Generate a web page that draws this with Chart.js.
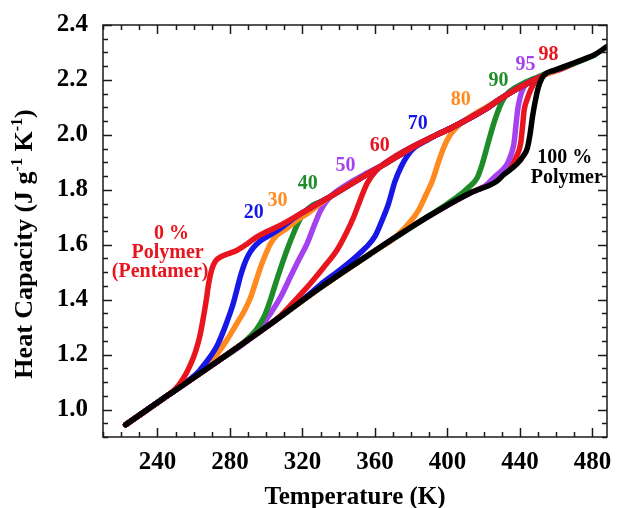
<!DOCTYPE html>
<html><head><meta charset="utf-8">
<script src="https://cdn.jsdelivr.net/npm/chart.js@4/dist/chart.umd.min.js"></script>
<style>html,body{margin:0;padding:0;background:#fff;}canvas{display:block;}</style>
</head><body>
<canvas id="c" width="622" height="508"></canvas>
<script>
// ---- axis ticks ----
const xTickLabels = [240, 280, 320, 360, 400, 440, 480];
const yTickLabels = [1.0, 1.2, 1.4, 1.6, 1.8, 2.0, 2.2, 2.4];

// ---- series values [T (K), Cp (J g-1 K-1)] ----
const p100 = [[222.5,0.945],[245,1.048],[273,1.175],[301,1.305],[329,1.44],[357,1.565],[385,1.685],[413,1.79],[427,1.83],[431,1.855],[438.5,1.895],[442,1.925],[444,1.95],[445.5,2.0],[447,2.07],[448.5,2.125],[450,2.17],[452,2.205],[454,2.222],[459,2.235],[467,2.255],[475,2.275],[482,2.295],[487.5,2.32]];
const p0 = [[222.5,0.945],[245,1.048],[250,1.075],[254,1.11],[258,1.16],[261,1.21],[263.5,1.27],[265.5,1.34],[267,1.40],[268.3,1.46],[270,1.51],[272,1.54],[275,1.556],[279,1.567],[284,1.58],[289.5,1.603],[294,1.625],[300.5,1.648],[309,1.675],[326,1.74],[339,1.79],[354,1.85],[367,1.90],[381,1.955],[394,2.0],[402,2.025],[420,2.09],[429,2.13],[439,2.17],[451,2.21]];
const p20 = [[222.5,0.945],[245,1.048],[259,1.115],[263,1.14],[266,1.165],[270,1.2],[273.5,1.24],[276.7,1.29],[279.5,1.34],[282,1.39],[284,1.44],[286,1.49],[288,1.53],[290,1.56],[293,1.59],[297,1.615],[302,1.635],[308,1.66],[316,1.70],[326,1.74],[339,1.79],[354,1.85],[367,1.90],[381,1.955],[394,2.0],[402,2.025],[420,2.09],[429,2.13],[439,2.17],[451,2.21]];
const p30 = [[222.5,0.945],[245,1.048],[259,1.115],[265,1.145],[271,1.185],[278,1.25],[284,1.315],[288,1.36],[291.5,1.41],[294.5,1.47],[297,1.52],[300,1.57],[302.5,1.605],[306,1.635],[311.5,1.66],[317,1.69],[323,1.715],[330,1.75],[339,1.79],[354,1.85],[367,1.90],[381,1.955],[394,2.0],[402,2.025],[420,2.09],[429,2.13],[439,2.17],[451,2.21]];
const p40 = [[222.5,0.945],[245,1.048],[273,1.175],[280,1.205],[286,1.235],[291,1.265],[295,1.295],[299,1.34],[302.4,1.40],[305,1.455],[308.5,1.525],[312,1.59],[315,1.64],[318,1.685],[321.5,1.72],[326,1.745],[333,1.765],[339,1.79],[354,1.85],[367,1.90],[381,1.955],[394,2.0],[402,2.025],[420,2.09],[429,2.13],[439,2.17],[451,2.21]];
const p50 = [[222.5,0.945],[245,1.048],[273,1.175],[287,1.237],[293,1.27],[298,1.31],[302.4,1.35],[308,1.41],[313.5,1.485],[318,1.545],[322.7,1.606],[326.5,1.67],[330,1.725],[334,1.765],[339,1.795],[346,1.825],[354,1.855],[367,1.90],[381,1.955],[394,2.0],[402,2.025],[420,2.09],[429,2.13],[439,2.17],[451,2.21]];
const p60 = [[222.5,0.945],[245,1.048],[273,1.175],[301,1.305],[306,1.33],[310,1.355],[317,1.405],[324.5,1.46],[332,1.52],[339,1.58],[344,1.64],[348.4,1.703],[352,1.765],[355.7,1.824],[360,1.865],[365,1.895],[372,1.925],[380,1.955],[394,2.0],[402,2.025],[420,2.09],[429,2.13],[439,2.17],[451,2.21]];
const p70 = [[222.5,0.945],[245,1.048],[273,1.175],[301,1.305],[315,1.375],[322,1.41],[330,1.455],[340,1.505],[348.4,1.55],[355,1.59],[360,1.63],[364,1.69],[367.5,1.75],[371,1.83],[374.5,1.885],[378,1.925],[382,1.955],[388,1.978],[394,2.0],[402,2.025],[420,2.09],[429,2.13],[439,2.17],[451,2.21]];
const p80 = [[222.5,0.945],[245,1.048],[273,1.175],[301,1.305],[329,1.44],[357,1.565],[364,1.595],[369,1.615],[373,1.638],[379,1.68],[384,1.725],[388,1.78],[391.5,1.83],[394.5,1.89],[398,1.955],[401,1.995],[405.5,2.03],[411,2.06],[418.5,2.09],[429,2.13],[439,2.17],[451,2.21],[460,2.235]];
const p90 = [[222.5,0.945],[245,1.048],[273,1.175],[301,1.305],[329,1.44],[357,1.565],[385,1.685],[399,1.745],[405.5,1.775],[411,1.805],[416.5,1.845],[419,1.89],[422,1.96],[425,2.03],[427.5,2.08],[430,2.12],[433,2.15],[437,2.17],[442,2.188],[449.6,2.21],[459,2.235],[470,2.26],[481,2.29]];
const p95 = [[222.5,0.945],[245,1.048],[273,1.175],[301,1.305],[329,1.44],[357,1.565],[385,1.685],[413,1.79],[420,1.81],[425.7,1.845],[430,1.87],[433,1.895],[435.2,1.93],[436.7,1.97],[437.7,2.03],[438.7,2.09],[440.2,2.14],[442.2,2.175],[447.8,2.2],[454,2.22],[462,2.24]];
const p98 = [[222.5,0.945],[245,1.048],[273,1.175],[301,1.305],[329,1.44],[357,1.565],[385,1.685],[413,1.79],[420,1.81],[427,1.835],[431,1.86],[435,1.885],[438,1.92],[440.4,1.97],[441.4,2.03],[442.3,2.09],[444,2.13],[445.9,2.164],[449.6,2.205],[456,2.225],[463,2.24],[470,2.26]];

// ---- in-plot labels [text, T, Cp, colour key] ----
const labelTexts = ['0 %','Polymer','(Pentamer)','20','30','40','50','60','70','80','90','95','98','100 %','Polymer'];
const labelT     = [247.8, 245.6, 241.5, 293.1, 306.3, 322.9, 343.8, 362.6, 383.6, 407.3, 428.2, 443.1, 455.8, 464.7, 465.8];
const labelCp    = [1.64, 1.571, 1.502, 1.716, 1.76, 1.822, 1.887, 1.96, 2.04, 2.127, 2.196, 2.255, 2.291, 1.916, 1.844];
const labelColor = ['red','red','red','blue','orange','green','purple','red','blue','orange','green','purple','red','black','black'];

const COL = {red:'#e8151f', blue:'#1717e6', orange:'#ff8a1f', green:'#1f8c2a', purple:'#a542f0', black:'#000000'};
const SERIF = "'Liberation Serif','Times New Roman',serif";

const seriesList = [
  ['100 %', p100, 'black'],
  ['0 %', p0, 'red'],
  ['20 %', p20, 'blue'],
  ['60 %', p60, 'red'],
  ['70 %', p70, 'blue'],
  ['30 %', p30, 'orange'],
  ['40 %', p40, 'green'],
  ['50 %', p50, 'purple'],
  ['80 %', p80, 'orange'],
  ['90 %', p90, 'green'],
  ['95 %', p95, 'purple'],
  ['98 %', p98, 'red']
];

const datasets = seriesList.map(([name, pts, c]) => ({
  label: name,
  data: pts.map(p => ({x: p[0], y: p[1]})),
  borderColor: COL[c],
  backgroundColor: COL[c],
  borderWidth: 5.5,
  pointRadius: 0,
  showLine: true,
  fill: false,
  cubicInterpolationMode: 'monotone',
  borderCapStyle: 'round',
  borderJoinStyle: 'round'
}));

const frameTicks = {
  id: 'frameTicks',
  afterDraw(chart) {
    const {ctx, chartArea: a, scales: {x, y}} = chart;
    ctx.save();
    ctx.strokeStyle = '#1a1a1a';
    ctx.lineWidth = 1.5;
    ctx.strokeRect(a.left, a.top, a.right - a.left, a.bottom - a.top);
    ctx.beginPath();
    for (let v = Math.ceil(x.min / 10) * 10; v <= x.max + 1e-9; v += 10) {
      const px = Math.round(x.getPixelForValue(v)) + 0.5;
      const L = (v % 40 === 0) ? 9 : 5;
      ctx.moveTo(px, a.bottom); ctx.lineTo(px, a.bottom - L);
      ctx.moveTo(px, a.top); ctx.lineTo(px, a.top + L);
    }
    for (let i = Math.ceil(y.min / 0.05 - 1e-6); i * 0.05 <= y.max + 1e-9; i++) {
      const v = i * 0.05;
      const py = Math.round(y.getPixelForValue(v)) + 0.5;
      const L = (i % 4 === 0) ? 9 : 5;
      ctx.moveTo(a.left, py); ctx.lineTo(a.left + L, py);
      ctx.moveTo(a.right, py); ctx.lineTo(a.right - L, py);
    }
    ctx.stroke();
    ctx.restore();
  }
};

const textLabels = {
  id: 'textLabels',
  afterDatasetsDraw(chart) {
    const {ctx, scales: {x, y}} = chart;
    ctx.save();
    ctx.font = 'bold 20px ' + SERIF;
    ctx.textAlign = 'center';
    ctx.textBaseline = 'middle';
    labelTexts.forEach((t, i) => {
      ctx.fillStyle = COL[labelColor[i]];
      ctx.fillText(t, x.getPixelForValue(labelT[i]), y.getPixelForValue(labelCp[i]));
    });
    ctx.restore();
  }
};

const yTitle = {
  id: 'yTitle',
  afterDraw(chart) {
    const {ctx, chartArea: a} = chart;
    const runs = [
      ['Heat Capacity (J g', 26, 0],
      ['-1', 16, 10],
      [' K', 26, 0],
      ['-1', 16, 10],
      [')', 26, 0]
    ];
    ctx.save();
    let total = 0;
    runs.forEach(r => { ctx.font = 'bold ' + r[1] + 'px ' + SERIF; r.push(ctx.measureText(r[0]).width); total += r[3]; });
    ctx.translate(32, (a.top + a.bottom) / 2 + 13);
    ctx.rotate(-Math.PI / 2);
    ctx.fillStyle = '#000';
    ctx.textBaseline = 'alphabetic';
    ctx.textAlign = 'left';
    let cx = -total / 2;
    runs.forEach(r => {
      ctx.font = 'bold ' + r[1] + 'px ' + SERIF;
      ctx.fillText(r[0], cx, -r[2]);
      cx += r[3];
    });
    ctx.restore();
  }
};

const zeroPad = s => { s.paddingTop = 0; s.paddingBottom = 0; s.paddingLeft = 0; s.paddingRight = 0; };

new Chart(document.getElementById('c'), {
  type: 'scatter',
  data: {datasets},
  options: {
    responsive: false,
    animation: false,
    devicePixelRatio: 1,
    layout: {padding: {top: 25, right: 15, left: 0, bottom: 0}},
    plugins: {legend: {display: false}, tooltip: {enabled: false}, title: {display: false}},
    scales: {
      x: {
        type: 'linear', min: 210, max: 488,
        grid: {display: false, drawTicks: false},
        border: {display: false},
        afterBuildTicks: s => { s.ticks = xTickLabels.map(v => ({value: v})); },
        afterFit: s => { s.height = 71; zeroPad(s); },
        ticks: {
          autoSkip: false, maxRotation: 0, padding: 11, color: '#000',
          font: {family: SERIF, size: 25, weight: 'bold', lineHeight: 1.2},
          callback: v => String(v)
        },
        title: {
          display: true, text: 'Temperature (K)', color: '#000',
          font: {family: SERIF, size: 25, weight: 'bold', lineHeight: 0.84},
          padding: {top: 0, bottom: 0}
        }
      },
      y: {
        type: 'linear', min: 0.9, max: 2.4,
        grid: {display: false, drawTicks: false},
        border: {display: false},
        afterBuildTicks: s => { s.ticks = yTickLabels.map(v => ({value: v})); },
        afterFit: s => { s.width = 103; zeroPad(s); },
        ticks: {
          autoSkip: false, padding: 15, color: '#000',
          font: {family: SERIF, size: 25, weight: 'bold'},
          callback: v => Number(v).toFixed(1)
        }
      }
    }
  },
  plugins: [frameTicks, textLabels, yTitle]
});
</script>
</body></html>
